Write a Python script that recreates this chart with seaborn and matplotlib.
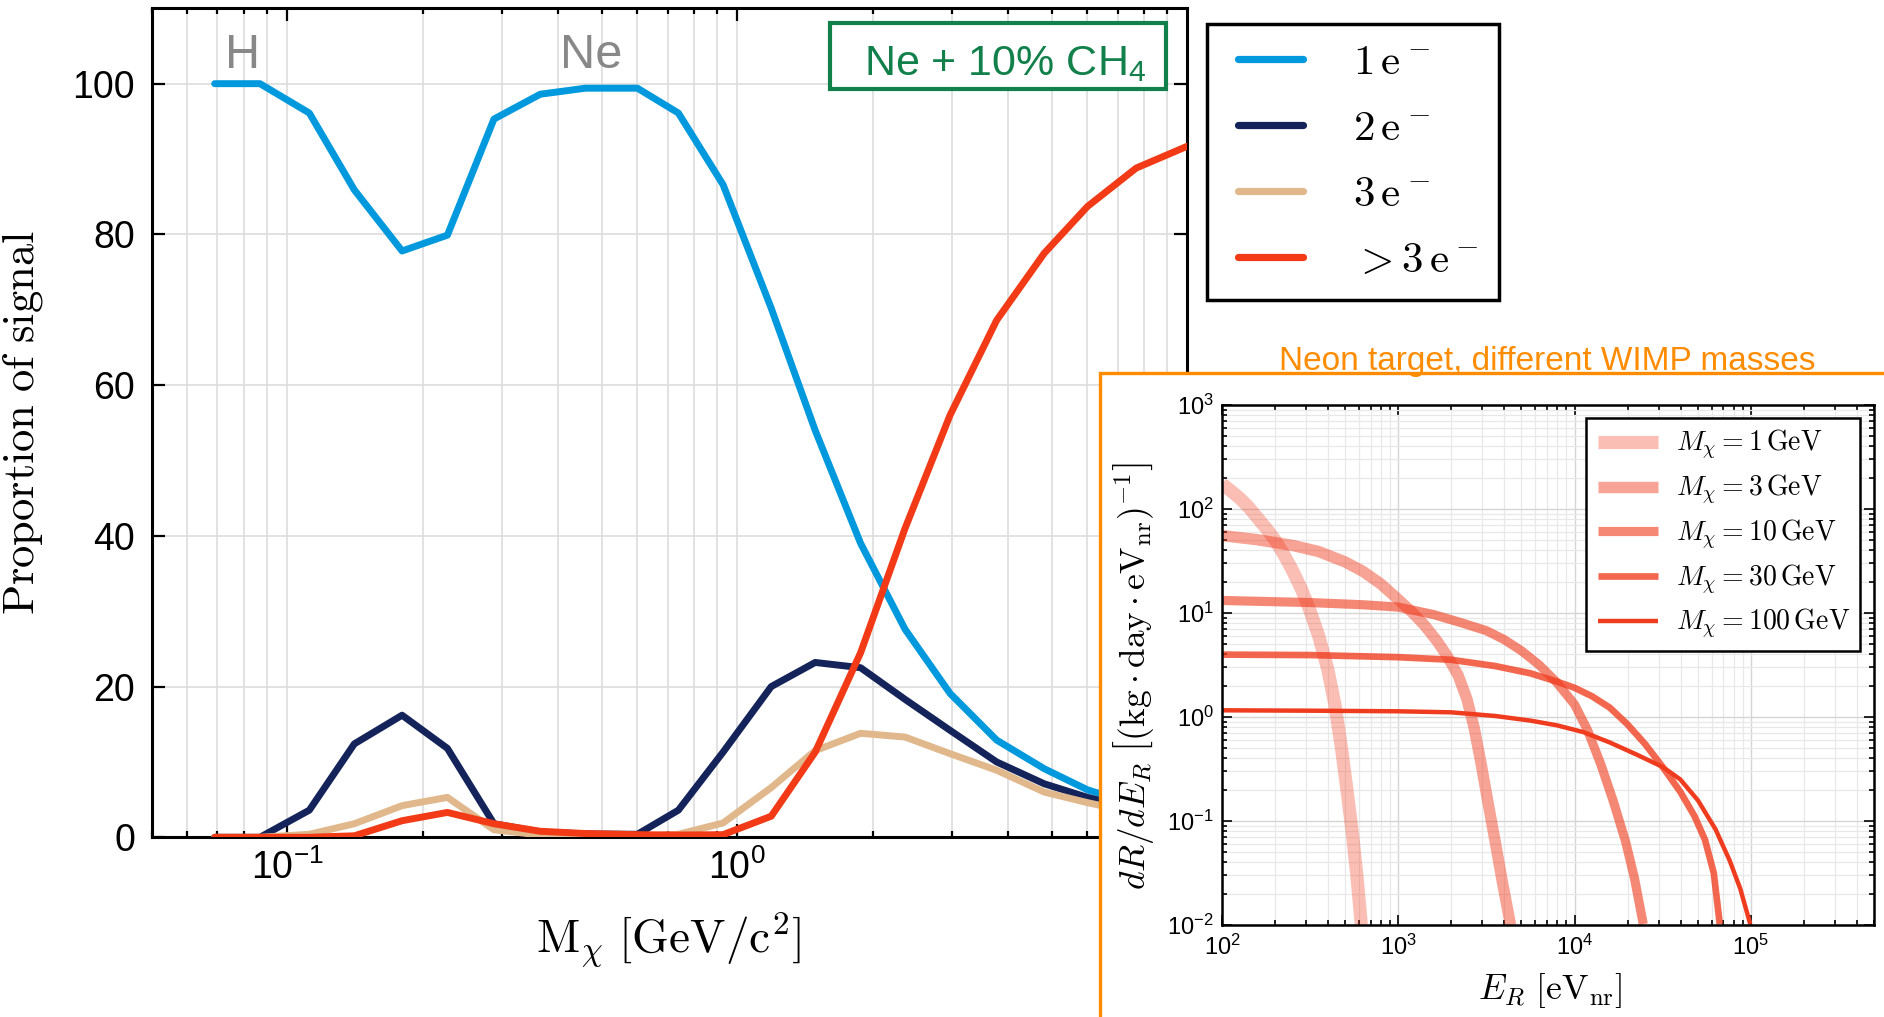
import numpy as np
import pandas as pd
import matplotlib
matplotlib.use("Agg")
import matplotlib.pyplot as plt
import seaborn as sns
from matplotlib.patches import Rectangle
from matplotlib.ticker import LogLocator, NullFormatter, FixedLocator

# ---------------- data: main panel ----------------
masses = [0.069, 0.087, 0.112, 0.141, 0.180, 0.227, 0.288, 0.365, 0.46, 0.60, 0.74,
          0.93, 1.19, 1.49, 1.88, 2.36, 2.97, 3.77, 4.81, 6.0, 7.7, 10.0]
frac_1e = [100, 100, 96.1, 85.9, 77.8, 79.9, 95.3, 98.6, 99.4, 99.4, 96.1,
           86.6, 70.2, 54.0, 39.0, 27.6, 19.1, 12.9, 9.1, 6.3, 4.3, 3.2]
frac_2e = [0, 0, 3.6, 12.4, 16.2, 11.8, 1.8, 0.7, 0.45, 0.4, 3.6,
           11.3, 20.0, 23.2, 22.5, 18.3, 14.2, 10.0, 7.1, 5.3, 3.7, 2.8]
frac_3e = [0, 0, 0.4, 1.8, 4.2, 5.3, 1.0, 0.3, 0.2, 0.1, 0.4,
           1.9, 6.6, 11.5, 13.8, 13.3, 11.1, 8.9, 6.0, 4.6, 3.2, 2.3]
frac_gt3e = [0, 0, 0, 0.2, 2.2, 3.3, 1.8, 0.8, 0.5, 0.35, 0.3,
             0.35, 2.8, 11.3, 24.5, 41.0, 56.0, 68.6, 77.5, 83.7, 88.8, 91.7]
series_labels = [r"$1\,\mathrm{e}^-$", r"$2\,\mathrm{e}^-$", r"$3\,\mathrm{e}^-$", r"$>3\,\mathrm{e}^-$"]
series_colors = ["#0099DD", "#14245A", "#E0B88C", "#F23A16"]
x_tick_vals = [0.1, 1.0]
x_tick_labels = [r"$10^{-1}$", r"$10^{0}$"]
y_tick_vals = [0, 20, 40, 60, 80, 100]

# ---------------- data: inset (recoil spectra, E in eV_nr) ----------------
E_1gev = [100, 112, 126, 141, 158, 178, 200, 224, 251, 282, 316, 355, 398, 437, 479, 513, 550, 582, 617]
R_1gev = [174, 150, 127, 105, 83.2, 65.3, 50.1, 36.7, 25.7, 17.0, 10.5, 5.89, 2.88, 1.32, 0.468,
          0.191, 0.0741, 0.0302, 0.0100]
E_3gev = [100, 158, 251, 355, 501, 631, 794, 1000, 1202, 1413, 1660, 1905, 2188, 2455, 2692,
          2951, 3236, 3548, 3890, 4335]
R_3gev = [55.5, 50.7, 44.7, 38.9, 30.9, 25.1, 19.1, 13.5, 10.1, 7.59, 5.37, 3.80, 2.51, 1.48,
          0.794, 0.355, 0.148, 0.0631, 0.0263, 0.0100]
E_10gev = [100, 316, 631, 1000, 1585, 2239, 3162, 3981, 5012, 6310, 7943, 10000, 11885, 14125,
           16596, 19498, 21878, 24547]
R_10gev = [13.2, 12.6, 12.0, 11.4, 9.66, 8.13, 6.76, 5.56, 4.32, 3.16, 2.14, 1.32, 0.741, 0.347,
           0.155, 0.0631, 0.0282, 0.0102]
E_30gev = [100, 316, 1000, 1995, 3548, 5623, 7943, 10000, 12589, 15849, 19953, 25119, 31623,
           39811, 47863, 54954, 61660, 66681]
R_30gev = [3.98, 3.94, 3.76, 3.55, 3.09, 2.63, 2.19, 1.91, 1.58, 1.23, 0.851, 0.550, 0.331,
           0.191, 0.112, 0.0661, 0.0316, 0.0102]
E_100gev = [100, 316, 1000, 1995, 3548, 5623, 7943, 11220, 15849, 22387, 31623, 39811, 50119,
            63096, 75858, 87096, 99300]
R_100gev = [1.16, 1.15, 1.135, 1.109, 1.023, 0.923, 0.832, 0.716, 0.569, 0.437, 0.331, 0.251,
            0.158, 0.0832, 0.0417, 0.0224, 0.0102]
wimp_labels = [r"$M_\chi = 1\,\mathrm{GeV}$", r"$M_\chi = 3\,\mathrm{GeV}$",
               r"$M_\chi = 10\,\mathrm{GeV}$", r"$M_\chi = 30\,\mathrm{GeV}$",
               r"$M_\chi = 100\,\mathrm{GeV}$"]
wimp_alphas = [0.33, 0.47, 0.61, 0.78, 1.0]
wimp_widths = [9.5, 8.2, 6.6, 4.8, 3.2]
wimp_color = "#F03C1E"
inset_x_ticks = [1e2, 1e3, 1e4, 1e5]
inset_x_labels = [r"$10^{2}$", r"$10^{3}$", r"$10^{4}$", r"$10^{5}$"]
inset_y_ticks = [1e-2, 1e-1, 1e0, 1e1, 1e2, 1e3]
inset_y_labels = [r"$10^{-2}$", r"$10^{-1}$", r"$10^{0}$", r"$10^{1}$", r"$10^{2}$", r"$10^{3}$"]

# ---------------- style ----------------
sns.set_theme(style="white")
plt.rcParams.update({
    "axes.edgecolor": "black",
    "axes.linewidth": 2.2,
    "xtick.color": "black",
    "ytick.color": "black",
    "text.color": "black",
    "mathtext.fontset": "cm",
    "mathtext.rm": "Liberation Sans",
    "mathtext.it": "Liberation Sans:italic",
    "mathtext.bf": "Liberation Sans:bold",
    "mathtext.sf": "Liberation Sans",
})
plt.rcParams["font.family"] = ["Liberation Sans", "DejaVu Sans"]

W, H = 1884, 1017
fig = plt.figure(figsize=(W / 100, H / 100), dpi=100)
fig.patch.set_facecolor("white")


def fx(px):
    return px / W


def fy(py):
    return 1 - py / H


# ---------------- main axes ----------------
ax = fig.add_axes([fx(151.7), fy(837.3), fx(1187.3) - fx(151.7), fy(8.3) - fy(837.3)])
ax.set_xscale("log")
ax.set_axisbelow(True)

draw_order = [0, 2, 1, 3]
all_fracs = [frac_1e, frac_2e, frac_3e, frac_gt3e]
main_lines = {}
for i in draw_order:
    sns.lineplot(x=masses, y=all_fracs[i], ax=ax, color=series_colors[i], linewidth=5.0,
                 estimator=None, sort=False, zorder=3 + i)
    main_lines[i] = ax.get_lines()[-1]

ax.set_xlim(0.05, 10)
ax.set_ylim(0, 110)
ax.set_xticks(x_tick_vals, labels=x_tick_labels)
minor_vals = [m * d for d in (0.01, 0.1, 1.0) for m in range(2, 10) if 0.05 <= m * d < 10 and m * d != 1]
ax.xaxis.set_minor_locator(FixedLocator(minor_vals))
ax.xaxis.set_minor_formatter(NullFormatter())
ax.set_yticks(y_tick_vals)
ax.tick_params(which="both", direction="in", top=True, right=True, bottom=True, left=True,
               width=1.6, color="black")
ax.tick_params(which="major", length=9.5, labelsize=27)
ax.tick_params(axis="x", which="major", pad=9)
ax.tick_params(axis="y", which="major", pad=12)
ax.tick_params(which="minor", length=4.5)
for lbl in ax.get_xticklabels():
    lbl.set_math_fontfamily("custom")
ax.grid(True, which="major", axis="y", color="#dddddd", lw=1.2)
ax.grid(True, which="both", axis="x", color="#dddddd", lw=1.2)
for s in ax.spines.values():
    s.set_linewidth(2.2)
    s.set_color("black")
ax.set_xlabel("")
ax.set_ylabel("")

fig.text(fx(23), fy(423), r"$\mathrm{Proportion\ of\ signal}$", rotation=90,
         ha="center", va="center", fontsize=32)
fig.text(fx(669), fy(940), r"$\mathrm{M}_\chi\ [\mathrm{GeV/c}^2]$",
         ha="center", va="center", fontsize=34)

fig.text(fx(243), fy(68), "H", color="#888888", fontsize=35, ha="center", va="baseline")
fig.text(fx(591), fy(68), "Ne", color="#888888", fontsize=35, ha="center", va="baseline")

fig.add_artist(Rectangle((fx(830), fy(89)), fx(1166) - fx(830), fy(23) - fy(89),
                         transform=fig.transFigure, facecolor="white", edgecolor="#12804A",
                         lw=3.0, zorder=3))
fig.text(fx(864), fy(75), r"Ne + 10% CH$_4$", color="#12804A", fontsize=31,
         ha="left", va="baseline", zorder=4, math_fontfamily="custom")

# main legend: hand-placed frame + frameless legend
fig.add_artist(Rectangle((fx(1207), fy(300)), fx(1499) - fx(1207), fy(24) - fy(300),
                         transform=fig.transFigure, facecolor="white", edgecolor="black",
                         lw=2.5, zorder=3))
leg = fig.legend([main_lines[i] for i in range(4)], series_labels, loc="upper left",
                 bbox_to_anchor=(fx(1237.6), fy(43.5)), bbox_transform=fig.transFigure,
                 borderaxespad=0, frameon=False, fontsize=31, handlelength=1.53,
                 handletextpad=1.15, borderpad=0, labelspacing=0.6)
leg.set_zorder(4)
for ln in leg.get_lines():
    ln.set_linewidth(5.2)

# ---------------- inset panel ----------------
orange = "#FF8C00"
fig.add_artist(Rectangle((fx(1100), -0.1), 0.6, fy(373) + 0.1, transform=fig.transFigure,
                         facecolor="white", edgecolor=orange, lw=2.4, zorder=5))
fig.text(fx(1547), fy(370), "Neon target, different WIMP masses", color=orange,
         fontsize=24, ha="center", va="baseline", zorder=6)

ax2 = fig.add_axes([fx(1222), fy(925), fx(1874) - fx(1222), fy(405) - fy(925)])
ax2.set_zorder(7)
ax2.set_xscale("log")
ax2.set_yscale("log")
ax2.set_axisbelow(True)
curves = [(E_1gev, R_1gev), (E_3gev, R_3gev), (E_10gev, R_10gev), (E_30gev, R_30gev), (E_100gev, R_100gev)]
for (E, R), a, w in zip(curves, wimp_alphas, wimp_widths):
    sns.lineplot(x=E, y=R, ax=ax2, color=wimp_color, alpha=a, linewidth=w,
                 estimator=None, sort=False, solid_capstyle="butt", solid_joinstyle="round")
ax2.set_xlim(100, 5e5)
ax2.set_ylim(1e-2, 1e3)
ax2.set_xticks(inset_x_ticks, labels=inset_x_labels)
ax2.set_yticks(inset_y_ticks, labels=inset_y_labels)
ax2.xaxis.set_minor_locator(LogLocator(base=10, subs=np.arange(2, 10), numticks=100))
ax2.yaxis.set_minor_locator(LogLocator(base=10, subs=np.arange(2, 10), numticks=100))
ax2.xaxis.set_minor_formatter(NullFormatter())
ax2.yaxis.set_minor_formatter(NullFormatter())
ax2.tick_params(which="both", direction="in", top=True, right=True, bottom=True, left=True,
                width=1.2, color="black")
ax2.tick_params(which="major", length=7, labelsize=17)
ax2.tick_params(axis="x", which="major", pad=7)
ax2.tick_params(axis="y", which="major", pad=6)
ax2.tick_params(which="minor", length=3.5)
for lbl in ax2.get_xticklabels() + ax2.get_yticklabels():
    lbl.set_math_fontfamily("custom")
ax2.grid(True, which="major", color="#d5d5d5", lw=1.0)
ax2.grid(True, which="minor", color="#e8e8e8", lw=0.9)
for s in ax2.spines.values():
    s.set_linewidth(1.8)
    s.set_color("black")
ax2.set_xlabel("")
ax2.set_ylabel("")

fig.text(fx(1550), fy(990), r"$E_R\ [\mathrm{eV}_\mathrm{nr}]$", ha="center", va="center",
         fontsize=25.5, zorder=8)
fig.text(fx(1134), fy(676),
         r"$dR/dE_R\ \left[(\mathrm{kg}\cdot\mathrm{day}\cdot\mathrm{eV}_\mathrm{nr})^{-1}\right]$",
         rotation=90, ha="center", va="center", fontsize=25.5, zorder=8)

# inset legend: hand-placed frame + frameless legend
fig.add_artist(Rectangle((fx(1586), fy(651)), fx(1860) - fx(1586), fy(418) - fy(651),
                         transform=fig.transFigure, facecolor="white", edgecolor="black",
                         lw=1.8, zorder=9))
leg2 = fig.legend(ax2.get_lines()[:5], wimp_labels, loc="upper left",
                  bbox_to_anchor=(fx(1598), fy(428)), bbox_transform=fig.transFigure,
                  borderaxespad=0, frameon=False, fontsize=20, handlelength=2.16,
                  handletextpad=0.65, borderpad=0, labelspacing=0.38)
leg2.set_zorder(10)

fig.savefig("out.png", dpi=100, facecolor="white")
